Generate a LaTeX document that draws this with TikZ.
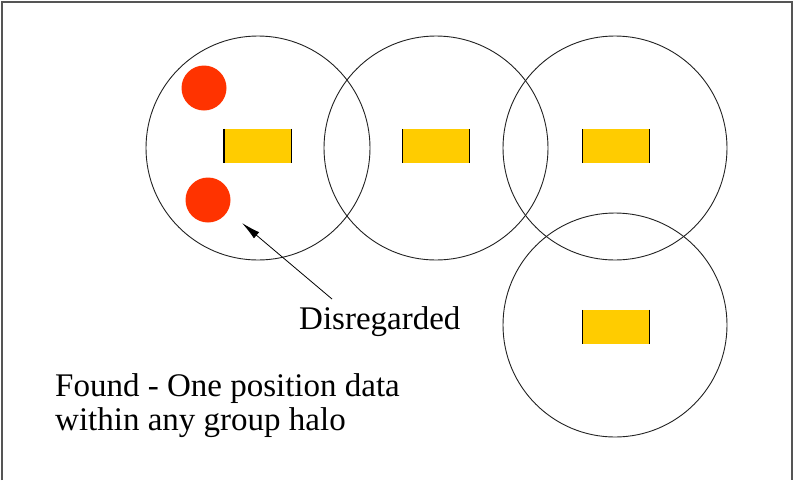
\documentclass[tikz,border=0pt]{standalone}
\usepackage{fontspec}
\setmainfont{Liberation Serif}
\usetikzlibrary{arrows.meta}
\definecolor{halo}{HTML}{222222}
\definecolor{gold}{HTML}{FFCC00}
\definecolor{dotred}{HTML}{FF3300}
\definecolor{frame}{HTML}{555555}
\tikzset{
  halocircle/.style={circle, draw=halo, line width=0.9pt, minimum size=224pt, inner sep=0pt},
  bar/.style={fill=gold, minimum width=67pt, minimum height=34pt, inner sep=0pt},
  reddot/.style={circle, fill=dotred, minimum size=45pt, inner sep=0pt},
  label/.style={inner sep=0pt, anchor=base west, font=\fontsize{33}{34}\selectfont},
  edge/.style={line width=1.4pt, black}
}
\begin{document}
\begin{tikzpicture}[x=1pt,y=-1pt]
\useasboundingbox (0,0) rectangle (795,480);
\draw[frame, line width=2pt] (1.5,480) -- (1.5,1.5) -- (791.5,1.5) -- (791.5,480);
% halos
\node[halocircle] (h1) at (258,148) {};
\node[halocircle] (h2) at (436,148) {};
\node[halocircle] (h3) at (615,148) {};
\node[halocircle] (h4) at (615,325) {};
% bars
\node[bar] (b1) at (257.5,146) {};
\node[bar] (b2) at (436,146) {};
\node[bar] (b3) at (616,146) {};
\node[bar] (b4) at (616,327) {};
\foreach \b in {b1,b2,b3,b4}{
  \draw[edge] (\b.north west) -- (\b.south west);
  \draw[edge] (\b.north east) -- (\b.south east);
}
% red dots
\node[reddot] (d1) at (204,88) {};
\node[reddot] (d2) at (208,200) {};
% labels
\node[label] (dis) at (299,329) {Disregarded};
\node[label] (f1) at (55,396) {Found - One position data};
\node[label] (f2) at (55,430) {within any group halo};
% arrow
\coordinate (tail) at (332,299);
\coordinate (tip) at (242,223);
\draw[line width=0.8pt, -{Latex[length=19pt,width=8pt]}] (tail) -- (tip);
\end{tikzpicture}
\end{document}
